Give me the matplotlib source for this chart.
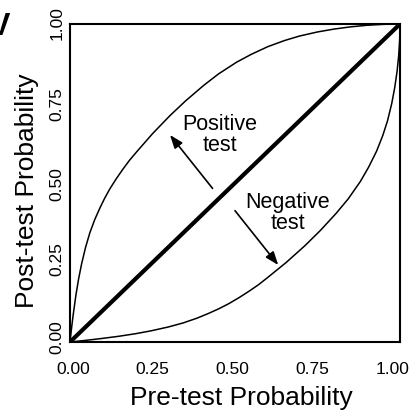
import matplotlib
matplotlib.use("Agg")
import matplotlib.pyplot as plt
from matplotlib.transforms import ScaledTranslation

plt.rcParams['font.family'] = ['Liberation Sans', 'DejaVu Sans']

# Data
diag_x = [0.0, 1.0]
diag_y = [0.0, 1.0]

pos_x = [0.0, 0.003, 0.006, 0.01, 0.018, 0.026, 0.035, 0.047, 0.06, 0.075, 0.09, 0.105,
         0.121, 0.14, 0.16, 0.18, 0.202, 0.25, 0.303, 0.35, 0.404, 0.45, 0.505, 0.55,
         0.6, 0.65, 0.695, 0.75, 0.8, 0.85, 0.9, 0.95, 1.0]
pos_y = [0.0, 0.028, 0.055, 0.088, 0.148, 0.198, 0.245, 0.297, 0.343, 0.385, 0.420, 0.452,
         0.482, 0.513, 0.543, 0.571, 0.598, 0.655, 0.712, 0.758, 0.806, 0.843, 0.880, 0.905,
         0.929, 0.948, 0.962, 0.975, 0.984, 0.991, 0.996, 0.999, 1.0]

neg_x = [0.0, 0.028, 0.055, 0.088, 0.148, 0.198, 0.245, 0.297, 0.343, 0.385, 0.420, 0.452,
         0.482, 0.513, 0.543, 0.571, 0.598, 0.655, 0.712, 0.758, 0.806, 0.843, 0.880, 0.905,
         0.929, 0.948, 0.962, 0.975, 0.984, 0.991, 0.996, 0.999, 1.0]
neg_y = [0.0, 0.003, 0.006, 0.01, 0.018, 0.026, 0.035, 0.047, 0.06, 0.075, 0.09, 0.105,
         0.121, 0.14, 0.16, 0.18, 0.202, 0.25, 0.303, 0.35, 0.404, 0.45, 0.505, 0.55,
         0.6, 0.65, 0.695, 0.75, 0.8, 0.85, 0.9, 0.95, 1.0]

ticks = [0.0, 0.25, 0.5, 0.75, 1.0]
tick_labels = ["0.00", "0.25", "0.50", "0.75", "1.00"]

fig = plt.figure(figsize=(4.14, 4.14), dpi=100)
ax = fig.add_axes([70/414, 71/414, 330/414, 318/414])

ax.plot(diag_x, diag_y, color='black', lw=3.0, solid_capstyle='butt')
ax.plot(pos_x, pos_y, color='black', lw=1.1)
ax.plot(neg_x, neg_y, color='black', lw=1.1)

ax.set_xlim(0, 1)
ax.set_ylim(0, 1)
ax.set_xticks(ticks)
ax.set_xticklabels(tick_labels)
ax.set_yticks(ticks)
ax.set_yticklabels(tick_labels, rotation=90, va='center')
ax.tick_params(axis='x', length=0, pad=14, labelsize=12.5)
ax.tick_params(axis='y', length=0, pad=4, labelsize=12.5)
for s in ax.spines.values():
    s.set_linewidth(1.5)

# small offsets of the tick labels, as in the reference
x_shift_px = [3, 0, -2.5, -5, -7]
for lab, dx in zip(ax.get_xticklabels(), x_shift_px):
    lab.set_transform(lab.get_transform() + ScaledTranslation(dx / 100, 0, fig.dpi_scale_trans))
y_shift_px = [6, 4, 0, 0, 2]
for lab, dy in zip(ax.get_yticklabels(), y_shift_px):
    lab.set_transform(lab.get_transform() + ScaledTranslation(0, dy / 100, fig.dpi_scale_trans))

ax.set_xlabel("Pre-test Probability", fontsize=19, va='top')
ax.xaxis.set_label_coords(0.52, -0.135)
ax.set_ylabel("Post-test Probability", fontsize=19)
ax.yaxis.set_label_coords(-0.095, 0.48)

ax.text(0.455, 0.654, "Positive\ntest", ha='center', va='center', fontsize=15.5,
        linespacing=1.0)
ax.text(0.659, 0.41, "Negative\ntest", ha='center', va='center', fontsize=15.5,
        linespacing=1.0)

arrow_style = '-|>,head_length=0.8,head_width=0.3'
ax.annotate("", xy=(0.303, 0.651), xytext=(0.432, 0.483),
            arrowprops=dict(arrowstyle=arrow_style, color='black', lw=1.2,
                            shrinkA=0, shrinkB=0))
ax.annotate("", xy=(0.631, 0.242), xytext=(0.5, 0.413),
            arrowprops=dict(arrowstyle=arrow_style, color='black', lw=1.2,
                            shrinkA=0, shrinkB=0))

fig.text(10/414, 1 - 35/414, "V", ha='right', va='baseline', fontsize=22,
         fontweight='bold')

fig.savefig("out.png", dpi=100)
